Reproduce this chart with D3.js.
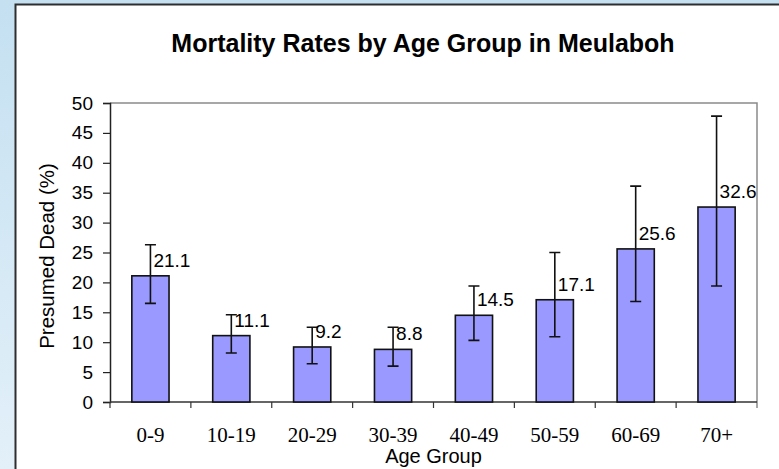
<!DOCTYPE html>
<html>
<head>
<meta charset="utf-8">
<script src="https://cdn.jsdelivr.net/npm/d3@7"></script>
<style>
	body { margin: 0; }
	svg { display: block; }
</style>
</head>
<body>
<script>
'use strict';

const ageGroups = ['0-9', '10-19', '20-29', '30-39', '40-49', '50-59', '60-69', '70+'];
const presumedDead = [21.1, 11.1, 9.2, 8.8, 14.5, 17.1, 25.6, 32.6];
const errLow = [16.5, 8.2, 6.4, 6.0, 10.3, 10.9, 16.8, 19.4];
const errHigh = [26.3, 14.6, 12.5, 12.5, 19.4, 25.0, 36.1, 47.8];
const yTicks = [0, 5, 10, 15, 20, 25, 30, 35, 40, 45, 50];

const width = 779;
const height = 469;
const plot = {left: 110, right: 757, top: 103, bottom: 402};

const svg = d3.select('body').append('svg')
	.attr('width', width)
	.attr('height', height);

// slide background + frame
const grad = svg.append('defs').append('linearGradient')
	.attr('id', 'bg')
	.attr('x1', 0).attr('y1', 0).attr('x2', 0).attr('y2', 1);
grad.append('stop').attr('offset', '0%').attr('stop-color', '#c4e0f1');
grad.append('stop').attr('offset', '100%').attr('stop-color', '#e3f0f9');

svg.append('rect')
	.attr('width', width).attr('height', height)
	.attr('fill', 'url(#bg)');

svg.append('rect')
	.attr('x', 15.5).attr('y', 4.5)
	.attr('width', width + 20).attr('height', height + 20)
	.attr('fill', '#fff')
	.attr('stroke', '#2e2e2e')
	.attr('stroke-width', 2);

const x = d3.scaleBand()
	.domain(ageGroups)
	.range([plot.left, plot.right])
	.padding(0);

const y = d3.scaleLinear()
	.domain([0, 50])
	.range([plot.bottom, plot.top]);

const barW = x.bandwidth() * 0.46;

// plot area outline (top/right grey)
svg.append('path')
	.attr('d', `M${plot.left},${plot.top}H${plot.right}V${plot.bottom + 6}`)
	.attr('fill', 'none')
	.attr('stroke', '#8a8a8a')
	.attr('stroke-width', 1.5);

// y axis
const yAxis = svg.append('g')
	.attr('transform', `translate(${plot.left},0)`)
	.call(d3.axisLeft(y).tickValues(yTicks).tickSize(7).tickPadding(10));
yAxis.select('.domain').attr('stroke', '#222').attr('stroke-width', 1.5);
yAxis.selectAll('line').attr('stroke', '#222').attr('stroke-width', 1.2);
yAxis.selectAll('text')
	.attr('font-family', 'Arial, "Liberation Sans", sans-serif')
	.attr('font-size', 19)
	.attr('fill', '#000');

// x axis: ticks at the band edges
const xAxis = svg.append('g')
	.attr('transform', `translate(0,${plot.bottom})`);
xAxis.append('line')
	.attr('x1', plot.left).attr('x2', plot.right)
	.attr('stroke', '#333').attr('stroke-width', 1.5);
xAxis.selectAll('line.tick')
	.data(ageGroups)
	.enter().append('line')
	.attr('class', 'tick')
	.attr('x1', d => x(d)).attr('x2', d => x(d))
	.attr('y1', 0).attr('y2', 6)
	.attr('stroke', '#333').attr('stroke-width', 1.2);
xAxis.selectAll('text')
	.data(ageGroups)
	.enter().append('text')
	.attr('x', d => x(d) + x.bandwidth() / 2)
	.attr('y', 39.5)
	.attr('text-anchor', 'middle')
	.attr('font-family', '"Times New Roman", "Liberation Serif", serif')
	.attr('font-size', 21)
	.attr('fill', '#000')
	.text(d => d);

const rows = ageGroups.map((g, i) => ({
	group: g,
	value: presumedDead[i],
	lo: errLow[i],
	hi: errHigh[i]
}));

// bars
svg.append('g').selectAll('rect')
	.data(rows)
	.enter().append('rect')
	.attr('x', d => x(d.group) + (x.bandwidth() - barW) / 2)
	.attr('y', d => y(d.value))
	.attr('width', barW)
	.attr('height', d => y(0) - y(d.value))
	.attr('fill', '#9999ff')
	.attr('stroke', '#111')
	.attr('stroke-width', 1.6);

// error bars
const err = svg.append('g')
	.attr('stroke', '#111')
	.attr('stroke-width', 1.6)
	.attr('fill', 'none');
err.selectAll('path')
	.data(rows)
	.enter().append('path')
	.attr('d', function(d) {
		const cx = x(d.group) + x.bandwidth() / 2;
		const c = 5.5;
		return `M${cx},${y(d.hi)}V${y(d.lo)}` +
			`M${cx - c},${y(d.hi)}H${cx + c}` +
			`M${cx - c},${y(d.lo)}H${cx + c}`;
	});

// value labels
svg.append('g').selectAll('text')
	.data(rows)
	.enter().append('text')
	.attr('x', d => x(d.group) + x.bandwidth() / 2 + 3)
	.attr('y', d => y(d.value) - 9)
	.attr('font-family', 'Arial, "Liberation Sans", sans-serif')
	.attr('font-size', 19)
	.attr('fill', '#000')
	.text(d => d.value.toFixed(1));

// titles
svg.append('text')
	.attr('x', 423)
	.attr('y', 52)
	.attr('text-anchor', 'middle')
	.attr('font-family', 'Arial, "Liberation Sans", sans-serif')
	.attr('font-weight', 'bold')
	.attr('font-size', 25)
	.attr('fill', '#000')
	.text('Mortality Rates by Age Group in Meulaboh');

svg.append('text')
	.attr('x', (plot.left + plot.right) / 2)
	.attr('y', 463)
	.attr('text-anchor', 'middle')
	.attr('font-family', 'Arial, "Liberation Sans", sans-serif')
	.attr('font-size', 20)
	.attr('fill', '#000')
	.text('Age Group');

svg.append('text')
	.attr('transform', 'translate(54,256) rotate(-90)')
	.attr('text-anchor', 'middle')
	.attr('font-family', 'Arial, "Liberation Sans", sans-serif')
	.attr('font-size', 20.5)
	.attr('fill', '#000')
	.text('Presumed Dead (%)');
</script>
</body>
</html>
